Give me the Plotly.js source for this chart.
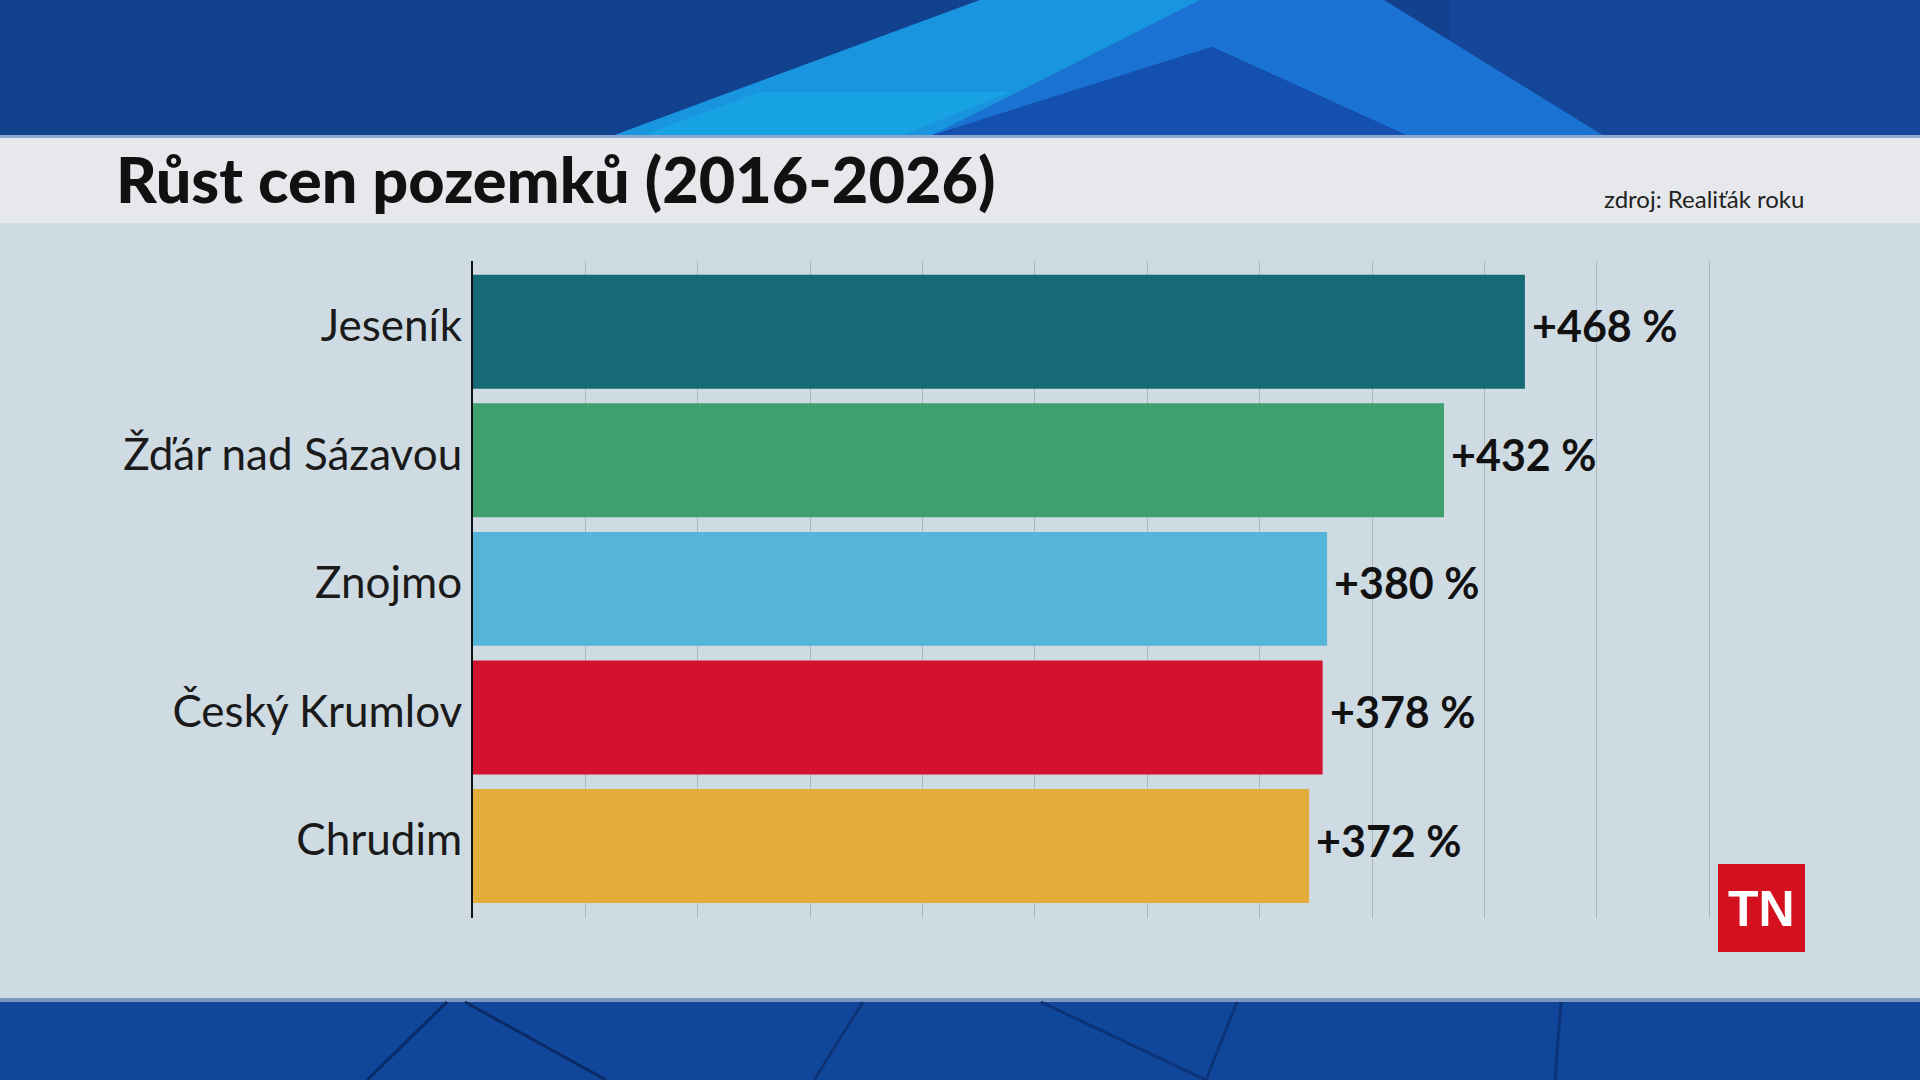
<!DOCTYPE html>
<html>
<head>
<meta charset="utf-8">
<script src="https://cdn.plot.ly/plotly-3.0.1.min.js"></script>
<style>
html,body{margin:0;padding:0;background:#cfdbe3;}
#chart{width:1920px;height:1080px;}
</style>
</head>
<body>
<div id="chart"></div>
<script>
// ---- data ----
const categories = ["Jeseník", "Žďár nad Sázavou", "Znojmo", "Český Krumlov", "Chrudim"];
const growthPct = [468, 432, 380, 378, 372];
const valueLabels = ["+468 %", "+432 %", "+380 %", "+378 %", "+372 %"];
const barColors = ["#156a75", "#3fa06e", "#54b5d8", "#d3122e", "#e2ad3b"];
const titleText = "Růst cen pozemků (2016-2026)";
const sourceText = "zdroj: Realiťák roku";
const logoText = "TN";

// ---- layout geometry (pixels) ----
const W = 1920, H = 1080;
const M = {l: 473, r: 209, t: 261, b: 162};
const PW = W - M.l - M.r, PH = H - M.t - M.b;
const xp = px => (px - M.l) / PW;
const yp = py => (H - M.b - py) / PH;

function rect(x0, y0, x1, y1, color, extra) {
  return Object.assign({type: 'rect', xref: 'paper', yref: 'paper', layer: 'below',
    x0: xp(x0), x1: xp(x1), y0: yp(y1), y1: yp(y0),
    fillcolor: color, line: {width: 0}}, extra || {});
}
function poly(pts, color, extra) {
  const d = pts.map((p, i) => (i ? 'L' : 'M') + xp(p[0]) + ',' + yp(p[1])).join(' ') + ' Z';
  return Object.assign({type: 'path', xref: 'paper', yref: 'paper', layer: 'below',
    path: d, fillcolor: color, line: {width: 0}}, extra || {});
}
function seg(x0, y0, x1, y1, color, w) {
  return {type: 'line', xref: 'paper', yref: 'paper', layer: 'below',
    x0: xp(x0), y0: yp(y0), x1: xp(x1), y1: yp(y1), line: {color: color, width: w}};
}

const shapes = [
  rect(0, 0, W, H, '#cfdbe3'),
  // top blue band
  rect(0, 0, W, 136, '#12418e'),
  rect(1450, 0, W, 136, '#1549a0', {opacity: 0.6}),
  poly([[612,136],[980,0],[1384,0],[1604,136],[1408,136],[1212,47],[930,136]], '#1a72d2'),
  poly([[612,136],[980,0],[1200,0],[930,136]], '#1a98e0', {opacity: 0.9}),
  poly([[640,136],[760,92],[1010,92],[900,136]], '#17b6e9', {opacity: 0.45}),
  poly([[1212,47],[1408,136],[930,136]], '#1350b0'),
  // title band
  rect(0, 137, W, 223, '#e7e8eb'),
  rect(0, 135, W, 138, '#8fa7cf'),
  // bottom band
  rect(0, 1000, W, H, '#10479a'),
  rect(0, 998, W, 1002, '#7d97c4'),
  seg(447, 1002, 367, 1080, '#0b2a66', 3),
  seg(465, 1002, 606, 1080, '#0b2a66', 3),
  seg(863, 1002, 814, 1080, '#0d3378', 3),
  seg(1041, 1002, 1206, 1080, '#0d3378', 3),
  seg(1237, 1002, 1206, 1080, '#0d3378', 3),
  seg(1561, 1002, 1555, 1080, '#0d3378', 3),
  // TN logo
  Object.assign(rect(1718, 864, 1805, 952, '#d4111f'), {layer: 'above'})
];

const annotations = [
  {text: titleText, xref: 'paper', yref: 'paper', x: xp(114), y: yp(178),
   xanchor: 'left', yanchor: 'middle', showarrow: false,
   font: {family: 'Lato, "Open Sans", sans-serif', size: 63, weight: 900, color: '#111111'}},
  {text: sourceText, xref: 'paper', yref: 'paper', x: xp(1806), y: yp(199),
   xanchor: 'right', yanchor: 'middle', showarrow: false,
   font: {family: 'Lato, "Open Sans", sans-serif', size: 24, color: '#222222'}},
  {text: '<b>' + logoText + '</b>', xref: 'paper', yref: 'paper', x: xp(1761), y: yp(909),
   xanchor: 'center', yanchor: 'middle', showarrow: false,
   font: {family: '"Liberation Sans", Arial, sans-serif', size: 50, color: '#ffffff'}}
];

// value labels placed at bar ends through the data axes
categories.forEach((c, i) => {
  annotations.push({text: valueLabels[i], x: growthPct[i], y: c, xref: 'x', yref: 'y',
    xanchor: 'left', yanchor: 'middle', xshift: 5, yshift: 6, showarrow: false,
    font: {family: 'Lato, "Open Sans", sans-serif', size: 43, weight: 'bold', color: '#111111'}});
});

const trace = {
  type: 'bar', orientation: 'h',
  y: categories, x: growthPct,
  marker: {color: barColors, line: {width: 0}},
  hoverinfo: 'none'
};

const layout = {
  width: W, height: H,
  margin: M,
  paper_bgcolor: '#cfdbe3', plot_bgcolor: 'rgba(0,0,0,0)',
  showlegend: false,
  bargap: 0.114,
  xaxis: {range: [0, 550.8], dtick: 50, tick0: 0, showgrid: true, gridcolor: '#a9b7c3', gridwidth: 1,
          zeroline: false, showticklabels: false, ticks: '', showline: false, fixedrange: true},
  yaxis: {type: 'category', categoryorder: 'array', categoryarray: categories,
          range: [4.56, -0.55], showline: true, linecolor: '#111111', linewidth: 2,
          showgrid: false, zeroline: false, ticks: '', ticklabelstandoff: 0, ticklabelshift: 6,
          tickfont: {family: 'Lato, "Open Sans", sans-serif', size: 44, color: '#1a1a1a'},
          fixedrange: true},
  shapes: shapes,
  annotations: annotations,
  hovermode: false
};

Plotly.newPlot('chart', [trace], layout, {displayModeBar: false, staticPlot: true});
</script>
</body>
</html>
